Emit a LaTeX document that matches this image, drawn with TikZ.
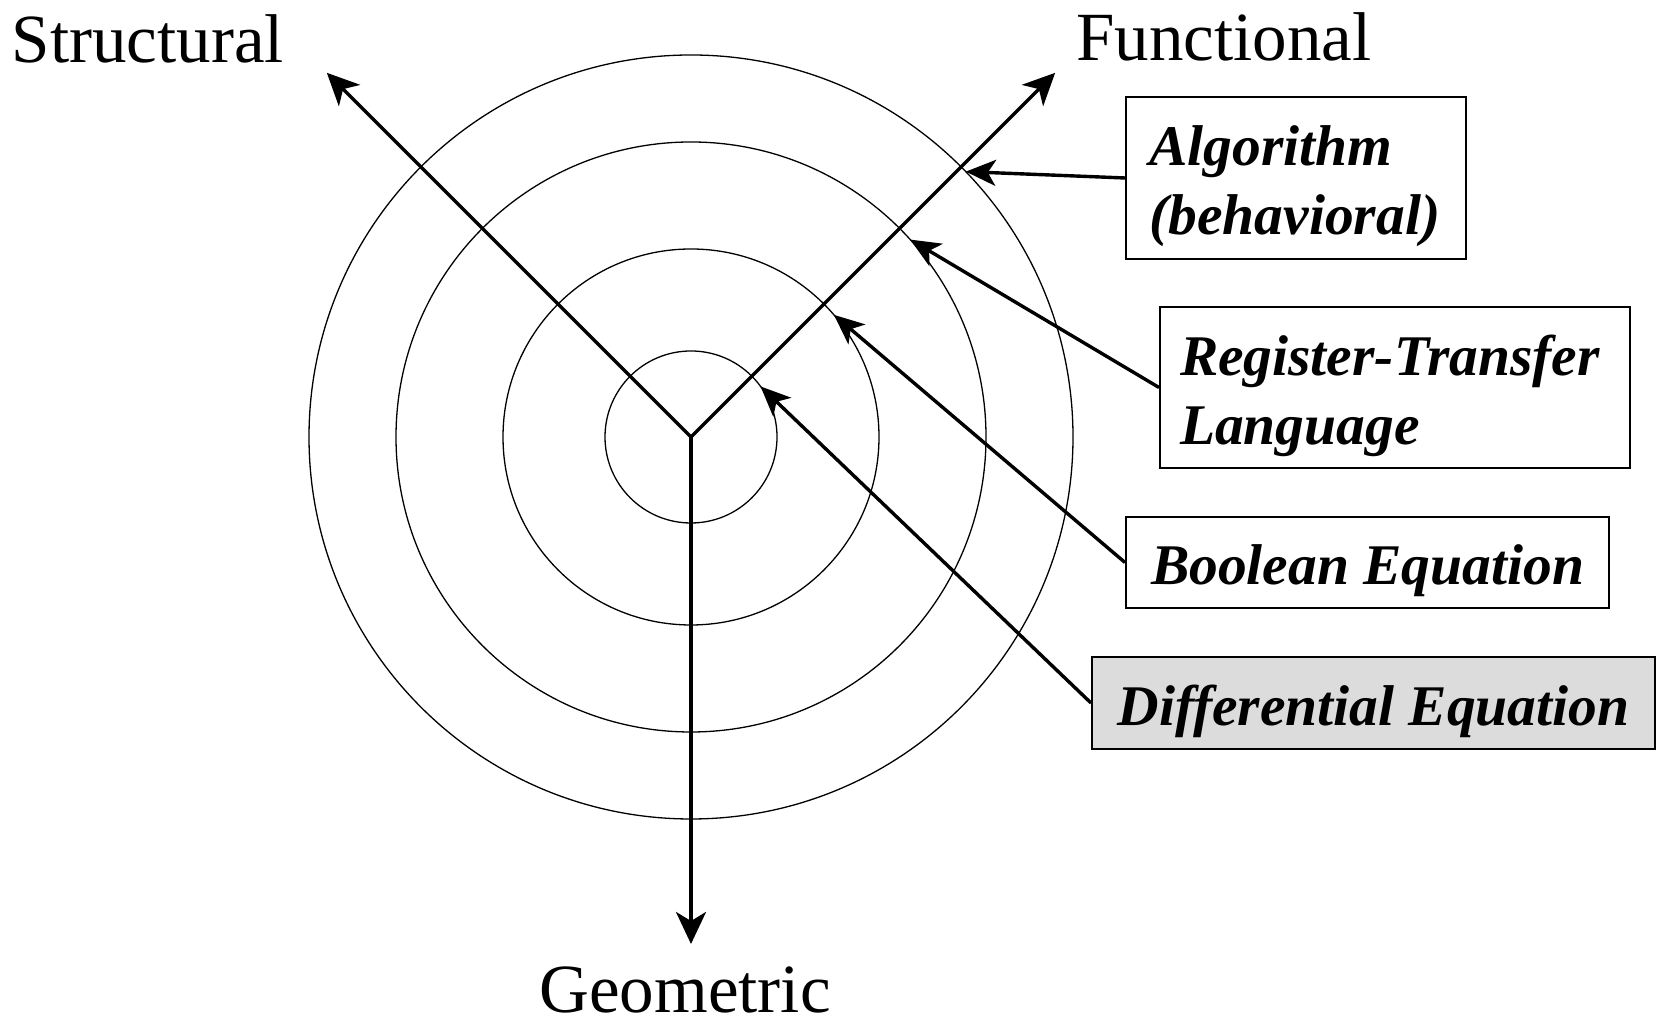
\documentclass[tikz,border=0pt]{standalone}
\usepackage{fontspec}
\setmainfont{Liberation Serif}
\usetikzlibrary{arrows.meta,calc}
\definecolor{boxgray}{RGB}{220,220,220}
\newcommand{\tallstrut}{\rule{0pt}{57pt}}
\begin{document}
\begin{tikzpicture}[x=1pt,y=1pt,
  ring/.style={line width=1.3pt},
  axisline/.style={line width=3.5pt,-{Stealth[length=32pt,width=30pt,inset=9pt]}},
  conn/.style={line width=3.4pt,-{Stealth[length=30pt,width=26pt,inset=8pt]}},
  lbl/.style={font=\fontsize{69}{80}\selectfont, inner sep=0pt, anchor=base},
  levelbox/.style={draw, line width=2pt, fill=white, inner ysep=0pt,
    font=\fontsize{57.5}{69}\selectfont\bfseries\itshape}
]
\useasboundingbox (0,0) rectangle (1658,1024);
\coordinate (C) at (691,587);
% rings
\foreach \r in {86,188,295,382} \draw[ring] (C) circle[radius=\r];
% axes
\coordinate (S) at ($(C)+(135:515)$);
\coordinate (F) at ($(C)+(45:515)$);
\coordinate (G) at ($(C)+(270:507)$);
\draw[axisline] (C) -- (S);
\draw[axisline] (C) -- (F);
\draw[axisline] (C) -- (G);
% axis labels
\node[lbl] (ls) at (148,961) {Structural};
\node[lbl] (lf) at (1224,963) {Functional};
\node[lbl] (lg) at (685,11) {Geometric};
% boxes
\node[levelbox, text width=293pt, inner xsep=23.5pt, minimum height=162pt, align=left] (b1) at (1296,846) {\tallstrut Algorithm\\(behavioral)};
\node[levelbox, text width=430pt, inner xsep=20pt, minimum height=161pt, align=left] (b2) at (1395,636.5) {\tallstrut Register-Transfer\\Language};
\node[levelbox, minimum width=483pt, minimum height=91pt, align=center] (b3) at (1367.5,461.5) {\tallstrut Boolean Equation};
\node[levelbox, fill=boxgray, minimum width=563pt, minimum height=92pt, align=center] (b4) at (1373.5,321) {\tallstrut Differential Equation};
% connector tips on the rings
\coordinate (t1) at ($(C)+(44:382)$);
\coordinate (t2) at ($(C)+(42:295)$);
\coordinate (t3) at ($(C)+(40.5:188)$);
\coordinate (t4) at ($(C)+(36:86)$);
\draw[conn] (b1.west) -- (t1);
\draw[conn] (b2.west) -- (t2);
\draw[conn] (b3.west) -- (t3);
\draw[conn] (b4.west) -- (t4);
\end{tikzpicture}
\end{document}
